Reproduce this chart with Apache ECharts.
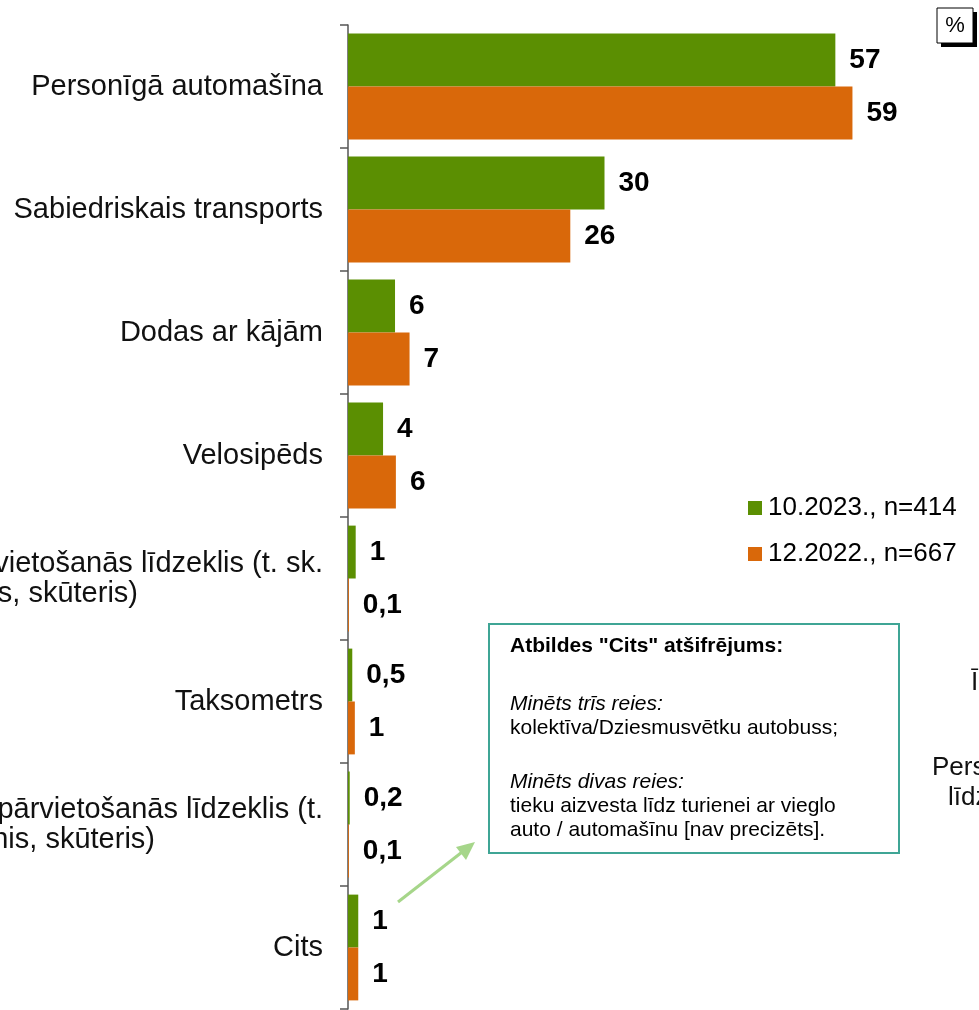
<!DOCTYPE html>
<html>
<head>
<meta charset="utf-8">
<script src="https://cdn.jsdelivr.net/npm/echarts@6/dist/echarts.min.js"></script>
<style>
html,body{margin:0;padding:0;background:#fff;}
#chart{width:979px;height:1010px;}
</style>
</head>
<body>
<div id="chart"></div>
<script>
// ---- data ----
const categories = [
  'Personīgā automašīna',
  'Sabiedriskais transports',
  'Dodas ar kājām',
  'Velosipēds',
  'Elektriskais individuālais pārvietošanās līdzeklis (t. sk.\nelektroskrejritenis, skūteris)',
  'Taksometrs',
  'Neelektriskais individuālais pārvietošanās līdzeklis (t.\nsk. skrejritenis, skūteris)',
  'Cits'
];
const seriesNames = ['10.2023., n=414', '12.2022., n=667'];
const values2023 = [57, 30, 5.5, 4.1, 0.9, 0.5, 0.2, 1.2];
const values2022 = [59, 26, 7.2, 5.6, 0.1, 0.8, 0.1, 1.2];
const labels2023 = ['57', '30', '6', '4', '1', '0,5', '0,2', '1'];
const labels2022 = ['59', '26', '7', '6', '0,1', '1', '0,1', '1'];
const noteTitle = 'Atbildes "Cits" atšifrējums:';
const noteLines = [
  ['i', 'Minēts trīs reies:'],
  ['n', 'kolektīva/Dziesmusvētku autobuss;'],
  ['i', 'Minēts divas reies:'],
  ['n', 'tieku aizvesta līdz turienei ar vieglo'],
  ['n', 'auto / automašīnu [nav precizēts].']
];

// ---- styles ----
const FONT = '"Liberation Sans", Arial, sans-serif';
const GREEN = '#5b8f02';
const ORANGE = '#d9680a';
const spacerWidths = {4: 185, 6: 168};

const chart = echarts.init(document.getElementById('chart'), null, {renderer: 'canvas'});

function labelFmt(arr) {
  return p => arr[p.dataIndex];
}

const barLabel = {
  show: true, position: 'right', distance: 14,
  fontFamily: FONT, fontWeight: 'bold', fontSize: 28, color: '#000'
};

const option = {
  animation: false,
  backgroundColor: '#fff',
  textStyle: {fontFamily: FONT},
  grid: {left: 348, top: 25, height: 984, right: 32.5, containLabel: false, outerBoundsMode: 'none'},
  xAxis: {type: 'value', min: 0, max: 70, show: false},
  yAxis: {
    type: 'category', inverse: true, data: categories,
    axisLine: {show: true, lineStyle: {color: '#555', width: 1.5}},
    axisTick: {show: true, length: 8, lineStyle: {color: '#555', width: 1.5}},
    splitLine: {show: false},
    axisLabel: {
      interval: 0, margin: 25, fontFamily: FONT, fontSize: 29, color: '#111',
      formatter: (v, i) => {
        const parts = v.split('\n');
        if (parts.length === 1) return '{t|' + v + '}';
        return '{t|' + parts[0] + '}\n{t|' + parts[1] + '}{sp' + i + '| }';
      },
      rich: {
        t: {fontFamily: FONT, fontSize: 29, color: '#111', lineHeight: 30},
        sp4: {width: spacerWidths[4], fontSize: 29, lineHeight: 30},
        sp6: {width: spacerWidths[6], fontSize: 29, lineHeight: 30}
      }
    }
  },
  legend: {
    show: true, orient: 'vertical', left: 743, top: 490,
    itemWidth: 14, itemHeight: 14, itemGap: 20, icon: 'rect',
    textStyle: {fontFamily: FONT, fontSize: 26, color: '#000', padding: [0, 0, 0, 1]},
    data: seriesNames
  },
  series: [
    {
      name: seriesNames[0], type: 'bar', data: values2023,
      barGap: '0%', barCategoryGap: '14%',
      itemStyle: {color: GREEN},
      label: Object.assign({}, barLabel, {formatter: labelFmt(labels2023)})
    },
    {
      name: seriesNames[1], type: 'bar', data: values2022,
      barGap: '0%', barCategoryGap: '14%',
      itemStyle: {color: ORANGE},
      label: Object.assign({}, barLabel, {formatter: labelFmt(labels2022)})
    }
  ],
  graphic: [
    // note box
    {
      type: 'rect', left: 488, top: 623,
      shape: {width: 410, height: 229},
      style: {fill: '#fff', stroke: '#3fa595', lineWidth: 2}
    },
    {
      type: 'text', left: 510, top: 636,
      style: {
        text: '{b|' + noteTitle + '}\n{g1| }\n' +
          noteLines.slice(0, 2).map(l => '{' + l[0] + '|' + l[1] + '}').join('\n') +
          '\n{g2| }\n' +
          noteLines.slice(2).map(l => '{' + l[0] + '|' + l[1] + '}').join('\n'),
        rich: {
          b: {fontFamily: FONT, fontSize: 21, fontWeight: 'bold', color: '#000', lineHeight: 24},
          i: {fontFamily: FONT, fontSize: 21, fontStyle: 'italic', color: '#000', lineHeight: 24},
          n: {fontFamily: FONT, fontSize: 21, color: '#000', lineHeight: 24},
          g1: {fontSize: 10, lineHeight: 34},
          g2: {fontSize: 10, lineHeight: 30}
        }
      }
    },
    // arrow
    {
      type: 'line', shape: {x1: 398, y1: 902, x2: 466, y2: 849},
      style: {stroke: '#a6d68a', lineWidth: 3}
    },
    {
      type: 'polygon', shape: {points: [[475, 842], [456, 847], [466, 860]]},
      style: {fill: '#a6d68a'}
    },
    // % box (top right)
    {
      type: 'rect', shape: {x: 941, y: 12, width: 36, height: 35},
      style: {fill: '#000'}
    },
    {
      type: 'rect', shape: {x: 937, y: 8, width: 36, height: 35},
      style: {fill: '#fff', stroke: '#000', lineWidth: 1}
    },
    {
      type: 'text', x: 955, y: 26,
      style: {text: '%', fontFamily: FONT, fontSize: 22, fill: '#000', align: 'center', verticalAlign: 'middle'}
    },
    // clipped texts from neighbouring element
    {
      type: 'text', x: 971, y: 683,
      style: {text: 'Īp', fontFamily: FONT, fontSize: 26, fill: '#111', align: 'left', verticalAlign: 'middle'}
    },
    {
      type: 'text', x: 932, y: 768,
      style: {text: 'Personīgā', fontFamily: FONT, fontSize: 26, fill: '#111', align: 'left', verticalAlign: 'middle'}
    },
    {
      type: 'text', x: 948, y: 798,
      style: {text: 'līdzeklis', fontFamily: FONT, fontSize: 26, fill: '#111', align: 'left', verticalAlign: 'middle'}
    }
  ]
};
chart.setOption(option);
</script>
</body>
</html>
